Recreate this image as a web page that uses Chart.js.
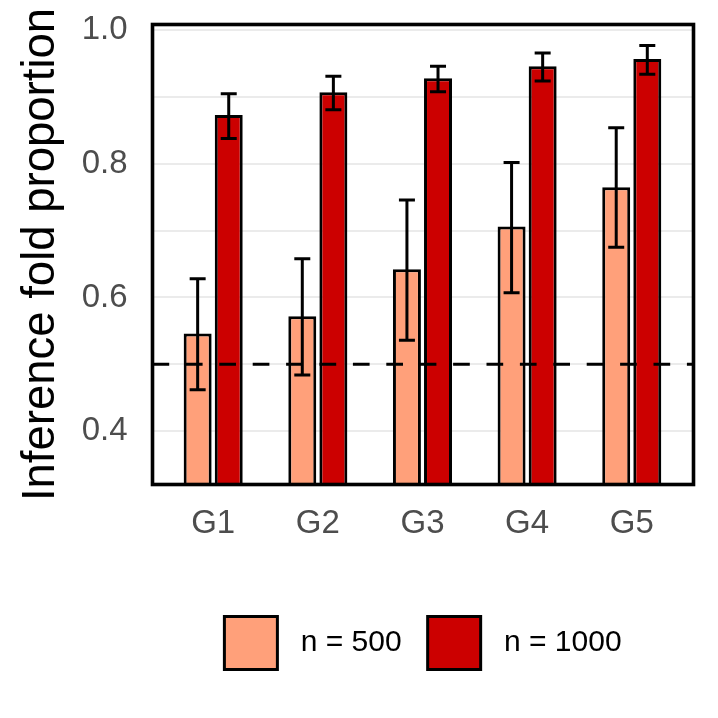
<!DOCTYPE html>
<html><head><meta charset="utf-8">
<script src="https://cdn.jsdelivr.net/npm/chart.js@4.4.1/dist/chart.umd.min.js"></script>
<style>html,body{margin:0;padding:0;background:#fff}#wrap{width:718px;height:718px}</style>
</head><body><div id="wrap"><canvas id="c" width="718" height="718"></canvas></div>
<script>
const categories = ['G1', 'G2', 'G3', 'G4', 'G5'];
const seriesNames = ['n = 500', 'n = 1000'];
const n500 = [0.546, 0.572, 0.642, 0.706, 0.765];
const n500Low = [0.462, 0.484, 0.536, 0.607, 0.675];
const n500High = [0.628, 0.658, 0.746, 0.802, 0.854];
const n1000 = [0.873, 0.907, 0.928, 0.946, 0.957];
const n1000Low = [0.838, 0.881, 0.908, 0.924, 0.934];
const n1000High = [0.905, 0.931, 0.946, 0.966, 0.977];
const yTicks = [0.4, 0.5, 0.6, 0.7, 0.8, 0.9, 1.0];
const yTickLabels = ['0.4', '', '0.6', '', '0.8', '', '1.0'];
const refLine = 0.5;

const FONT = "'Liberation Sans', Arial, Helvetica, sans-serif";
const lows = [n500Low, n1000Low];
const highs = [n500High, n1000High];

const toPoints = vals => vals.map((v, i) => ({ x: i + 1, y: v }));

const overlay = {
  id: 'overlay',
  afterDatasetsDraw(chart) {
    const ctx = chart.ctx;
    const ys = chart.scales.y;
    const a = chart.chartArea;
    ctx.save();
    ctx.strokeStyle = '#000';
    ctx.lineWidth = 3;
    ctx.lineCap = 'butt';
    chart.data.datasets.forEach((ds, di) => {
      const meta = chart.getDatasetMeta(di);
      meta.data.forEach((el, j) => {
        const x = el.x;
        const yl = ys.getPixelForValue(lows[di][j]);
        const yh = ys.getPixelForValue(highs[di][j]);
        const hw = 8;
        ctx.beginPath();
        ctx.moveTo(x, yl); ctx.lineTo(x, yh);
        ctx.moveTo(x - hw, yl); ctx.lineTo(x + hw, yl);
        ctx.moveTo(x - hw, yh); ctx.lineTo(x + hw, yh);
        ctx.stroke();
      });
    });
    const yr = ys.getPixelForValue(refLine);
    ctx.beginPath();
    ctx.setLineDash([16.7, 16.7]);
    ctx.lineWidth = 3.2;
    ctx.moveTo(a.left, yr); ctx.lineTo(a.right, yr);
    ctx.stroke();
    ctx.setLineDash([]);
    ctx.lineWidth = 3.6;
    ctx.strokeRect(a.left, a.top, a.right - a.left, a.bottom - a.top);
    ctx.restore();
  }
};

new Chart(document.getElementById('c'), {
  type: 'bar',
  data: {
    datasets: [
      { label: seriesNames[0], data: toPoints(n500), backgroundColor: '#FFA07A', borderColor: '#000', borderWidth: 3, borderSkipped: false },
      { label: seriesNames[1], data: toPoints(n1000), backgroundColor: '#CC0000', borderColor: '#000', borderWidth: 3, borderSkipped: false }
    ]
  },
  options: {
    responsive: false,
    animation: false,
    devicePixelRatio: 1,
    layout: { padding: { top: 24.5, right: 24.5, bottom: 38.5, left: 0 } },
    datasets: { bar: { categoryPercentage: 0.594, barPercentage: 0.9, grouped: true } },
    scales: {
      x: {
        type: 'linear',
        offset: false,
        min: 0.42, max: 5.59,
        afterBuildTicks: s => { s.ticks = categories.map((c, i) => ({ value: i + 1 })); },
        afterFit: s => { s.height = 106; s.paddingLeft = 0; s.paddingRight = 0; },
        grid: { display: false, drawTicks: false },
        border: { display: false },
        ticks: {
          autoSkip: false, maxRotation: 0,
          callback: (v) => categories[Math.round(v) - 1],
          font: { family: FONT, size: 33 }, color: '#4d4d4d', padding: 19.5
        }
      },
      y: {
        min: 0.32, max: 1.0085,
        afterBuildTicks: s => { s.ticks = yTicks.map(v => ({ value: v })); },
        afterFit: s => { s.width = 152.5; s.paddingTop = 0; s.paddingBottom = 0; },
        grid: { color: '#ebebeb', lineWidth: 2, drawTicks: false },
        border: { display: false },
        ticks: {
          autoSkip: false,
          callback: (v) => { const k = yTicks.findIndex(t => Math.abs(t - v) < 1e-6); return k >= 0 ? yTickLabels[k] : ''; },
          font: { family: FONT, size: 33 }, color: '#4d4d4d', padding: 25
        },
        title: {
          display: true, text: 'Inference fold proportion',
          font: { family: FONT, size: 45.5 }, color: '#000',
          padding: { top: 14, bottom: 0 }
        }
      }
    },
    plugins: {
      tooltip: { enabled: false },
      legend: {
        position: 'bottom',
        fullSize: false,
        labels: {
          boxWidth: 53, boxHeight: 53, padding: 26,
          font: { family: FONT, size: 30 }, color: '#000',
          generateLabels: chart => chart.data.datasets.map((ds, i) => ({
            text: ' ' + ds.label,
            fillStyle: ds.backgroundColor,
            strokeStyle: '#000',
            lineWidth: 3,
            fontColor: '#000',
            datasetIndex: i,
            hidden: false
          }))
        }
      }
    }
  },
  plugins: [overlay]
});
</script></body></html>
